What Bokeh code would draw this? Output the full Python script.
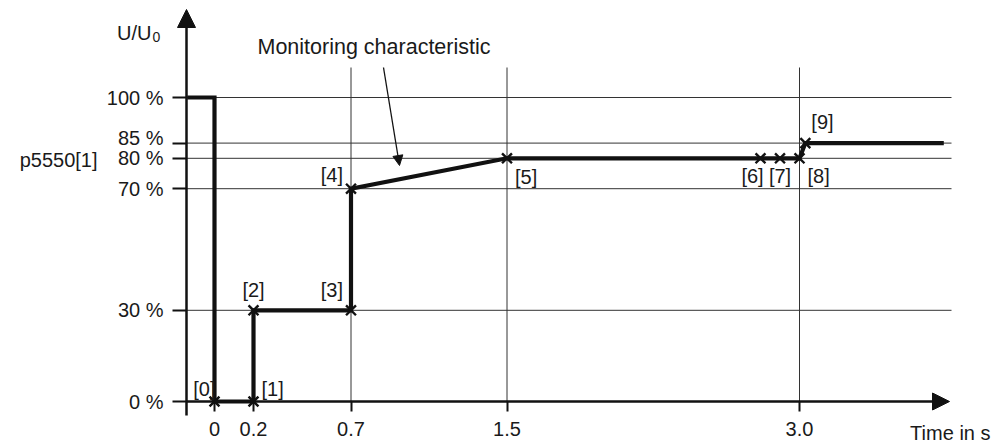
from bokeh.plotting import figure
from bokeh.models import Range1d, FixedTicker, Arrow, NormalHead, ColumnDataSource, LinearAxis
from bokeh.core.properties import value
from bokeh.embed import file_html
from bokeh.resources import INLINE

# ---------------- data ----------------
TIME_PATH = [-0.14, 0.0, 0.0, 0.2, 0.2, 0.7, 0.7, 1.5, 2.80, 2.90, 3.0, 3.03, 3.74]
VOLT_PATH = [100, 100, 0, 0, 30, 30, 70, 80, 80, 80, 80, 85, 85]

POINT_T = [0.0, 0.2, 0.2, 0.7, 0.7, 1.5, 2.80, 2.90, 3.0, 3.03]
POINT_V = [0, 0, 30, 30, 70, 80, 80, 80, 80, 85]
POINT_LABELS = ["[0]", "[1]", "[2]", "[3]", "[4]", "[5]", "[6]", "[7]", "[8]", "[9]"]

X_TICKS = [0, 0.2, 0.7, 1.5, 3.0]
X_TICK_LABELS = ["0", "0.2", "0.7", "1.5", "3.0"]
Y_TICKS = [0, 30, 70, 80, 85, 100]
Y_TICK_LABELS = ["0 %", "30 %", "70 %", "80 %", "85 %", "100 %"]

GRID_T = [0.7, 1.5, 3.0]
GRID_V = [30, 70, 80, 85, 100]

# ---------------- styles / layout ----------------
W, H = 995, 443
PX_S = 195.0          # px per second
T0_PX = 214.0         # canvas x of t = 0
PX_PCT = 3.04         # px per percent
V0_PX = 401.0         # canvas y of 0 %


def tx(px):
    return (px - T0_PX) / PX_S


def vy(py):
    return (V0_PX - py) / PX_PCT


X_START, X_END = tx(0), tx(W)
Y_START, Y_END = vy(H), vy(0)

Y_AXIS_T = tx(186)
Y_AXIS_BOTTOM = vy(415)
Y_AXIS_TIP = vy(9)
X_AXIS_TIP = tx(949)
GRID_RIGHT_T = tx(951)
GRID_TOP_V = vy(67)

FONT = "Liberation Sans"
FS = "20px"
INK = "#111111"
TXT = "#1a1a1a"
GRID = "#333333"

p = figure(width=W, height=H, output_backend="svg", toolbar_location=None,
           x_range=Range1d(X_START, X_END), y_range=Range1d(Y_START, Y_END),
           x_axis_type=None, y_axis_type=None, min_border=0)
p.outline_line_color = None
p.background_fill_color = "white"
p.border_fill_color = "white"

# axes (ticks + labels) at fixed locations
y_over = {t: (lab if t != 85 else "") for t, lab in zip(Y_TICKS, Y_TICK_LABELS)}
yaxis = LinearAxis(ticker=FixedTicker(ticks=Y_TICKS), fixed_location=Y_AXIS_T,
                   major_label_overrides=y_over, axis_line_color=None,
                   major_tick_out=14, major_tick_in=0, major_tick_line_width=2,
                   major_tick_line_color=INK, minor_tick_line_color=None,
                   major_label_standoff=9, major_label_text_font_size=FS,
                   major_label_text_font=FONT, major_label_text_color=TXT)
p.add_layout(yaxis, "left")

x_over = {t: lab for t, lab in zip(X_TICKS, X_TICK_LABELS)}
xaxis = LinearAxis(ticker=FixedTicker(ticks=X_TICKS), fixed_location=0,
                   major_label_overrides=x_over, axis_line_color=None,
                   major_tick_out=10, major_tick_in=0, major_tick_line_width=2,
                   major_tick_line_color=INK, minor_tick_line_color=None,
                   major_label_standoff=10, major_label_text_font_size=FS,
                   major_label_text_font=FONT, major_label_text_color=TXT)
p.add_layout(xaxis, "below")

# grid lines
p.segment(x0=GRID_T, y0=[0] * len(GRID_T), x1=GRID_T, y1=[GRID_TOP_V] * len(GRID_T),
          line_color=GRID, line_width=1)
p.segment(x0=[Y_AXIS_T] * len(GRID_V), y0=GRID_V, x1=[GRID_RIGHT_T] * len(GRID_V), y1=GRID_V,
          line_color=GRID, line_width=1)

# axis lines with arrow heads
p.add_layout(Arrow(end=NormalHead(size=18, fill_color=INK, line_color=INK),
                   x_start=Y_AXIS_T, y_start=Y_AXIS_BOTTOM, x_end=Y_AXIS_T, y_end=Y_AXIS_TIP,
                   line_color=INK, line_width=2.5))
p.add_layout(Arrow(end=NormalHead(size=17, fill_color=INK, line_color=INK),
                   x_start=Y_AXIS_T, y_start=0, x_end=X_AXIS_TIP, y_end=0,
                   line_color=INK, line_width=2.5))

# monitoring characteristic
p.line(TIME_PATH, VOLT_PATH, line_color=INK, line_width=4.2, line_join="miter")
p.scatter(POINT_T, POINT_V, marker="x", size=14, line_color=INK, line_width=2.4)

lab_src = ColumnDataSource(dict(
    x=POINT_T, y=POINT_V, text=POINT_LABELS,
    align=["right", "left", "center", "right", "right", "left", "center", "center", "left", "left"],
    xo=[1, 8, 0, -8, -8, 8, -8, 0, 8, 6],
    yo=[-13, -13, -20, -20, -14, 19, 18, 18, 18, -21],
))
p.text(x="x", y="y", text="text", source=lab_src, text_align="align", x_offset="xo",
       y_offset="yo", text_baseline="middle", text_font=value(FONT),
       text_font_size=value(FS), text_color=TXT)

# annotation text and pointer
p.text(x=[tx(257)], y=[vy(46)], text=["Monitoring characteristic"],
       text_align="left", text_baseline="middle", text_font=value(FONT),
       text_font_size=value("21.5px"), text_color=TXT)
p.add_layout(Arrow(end=NormalHead(size=10, fill_color=INK, line_color=INK),
                   x_start=tx(383), y_start=vy(67), x_end=tx(399), y_end=vy(165),
                   line_color=INK, line_width=1.3))

# left-side texts
p.text(x=[Y_AXIS_T], y=[85], text=["85 %"], x_offset=-23, y_offset=-5,
       text_align="right", text_baseline="middle", text_font=value(FONT),
       text_font_size=value(FS), text_color=TXT)
p.text(x=[Y_AXIS_T], y=[80], text=["p5550[1]"], x_offset=-89, y_offset=2,
       text_align="right", text_baseline="middle", text_font=value(FONT),
       text_font_size=value(FS), text_color=TXT)
p.text(x=[Y_AXIS_T], y=[vy(32)], text=["U/U"], x_offset=-35,
       text_align="right", text_baseline="middle", text_font=value(FONT),
       text_font_size=value(FS), text_color=TXT)
p.text(x=[Y_AXIS_T], y=[vy(32)], text=["0"], x_offset=-34, y_offset=4,
       text_align="left", text_baseline="middle", text_font=value(FONT),
       text_font_size=value("14px"), text_color=TXT)
p.text(x=[tx(990)], y=[vy(432)], text=["Time in s"],
       text_align="right", text_baseline="middle", text_font=value(FONT),
       text_font_size=value(FS), text_color=TXT)

open("out.html", "w").write(file_html(p, INLINE))
